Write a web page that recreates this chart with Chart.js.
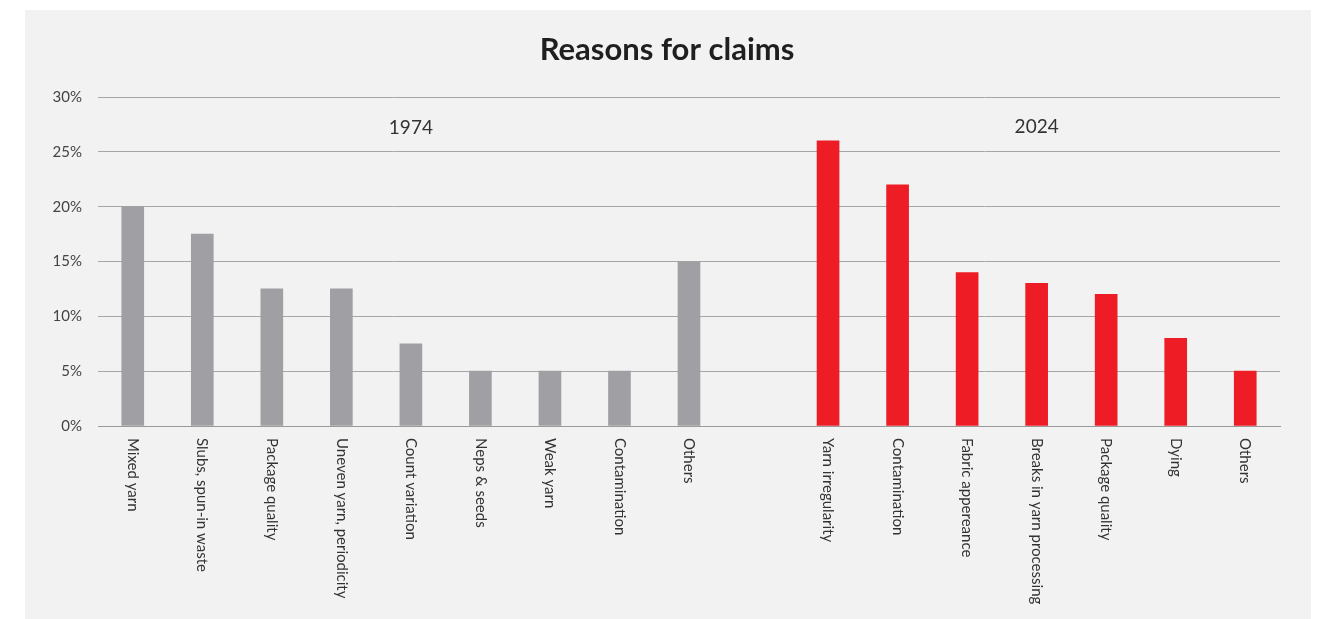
<!DOCTYPE html>
<html>
<head>
<meta charset="utf-8">
<script src="https://cdn.jsdelivr.net/npm/chart.js@4"></script>
<style>
  html, body { margin: 0; padding: 0; background: #fff; }
  #panel { position: absolute; left: 25px; top: 10px; width: 1286px; height: 609px; background: #f2f2f2; }
  #wrap { position: absolute; left: 0; top: 0; width: 1326px; height: 619px; }
</style>
</head>
<body>
<div id="panel"></div>
<div id="wrap"><canvas id="chart"></canvas></div>
<script>
const labels1974 = ['Mixed yarn', 'Slubs, spun-in waste', 'Package quality', 'Uneven yarn, periodicity', 'Count variation', 'Neps & seeds', 'Weak yarn', 'Contamination', 'Others'];
const labels2024 = ['Yarn irregularity', 'Contamination', 'Fabric appereance', 'Breaks in yarn processing', 'Package quality', 'Dying', 'Others'];
const values1974 = [20, 17.5, 12.5, 12.5, 7.5, 5, 5, 5, 15];
const values2024 = [26, 22, 14, 13, 12, 8, 5];
const yTicks = [0, 5, 10, 15, 20, 25, 30];

const labels = [...labels1974, '', ...labels2024];
const gap = [null];
const data1974 = [...values1974, ...gap, ...labels2024.map(() => null)];
const data2024 = [...labels1974.map(() => null), ...gap, ...values2024];

const FONT = 'Lato, "Noto Sans", sans-serif';

const decorations = {
  id: 'decorations',
  afterDraw(chart) {
    const { ctx, chartArea, scales } = chart;
    const x = scales.x, y = scales.y;
    ctx.save();
    // title
    ctx.fillStyle = '#1f1f1f';
    ctx.font = `bold 31px ${FONT}`;
    ctx.textAlign = 'center';
    ctx.textBaseline = 'middle';
    ctx.fillText('Reasons for claims', 667, 50);
    // year labels
    ctx.fillStyle = '#333';
    ctx.font = `400 19px ${FONT}`;
    const mid1974 = (labels1974.length - 1) / 2;
    const mid2024 = labels1974.length + 1 + (labels2024.length - 1) / 2;
    ctx.fillText('1974', x.getPixelForValue(mid1974), y.getPixelForValue(27.2));
    ctx.fillText('2024', x.getPixelForValue(mid2024), y.getPixelForValue(27.3));
    // rotated category labels, reading top to bottom
    ctx.font = `400 15px ${FONT}`;
    ctx.textAlign = 'left';
    labels.forEach((lab, i) => {
      if (!lab) return;
      ctx.save();
      ctx.translate(x.getPixelForValue(i), chartArea.bottom + 12);
      ctx.rotate(Math.PI / 2);
      ctx.fillText(lab, 0, 0);
      ctx.restore();
    });
    ctx.restore();
  }
};

new Chart(document.getElementById('chart'), {
  type: 'bar',
  data: {
    labels,
    datasets: [
      { label: '1974', data: data1974, backgroundColor: '#a0a0a4', grouped: false, barThickness: 22 },
      { label: '2024', data: data2024, backgroundColor: '#ee1c25', grouped: false, barThickness: 22 }
    ]
  },
  options: {
    responsive: true,
    maintainAspectRatio: false,
    animation: false,
    layout: { padding: { top: 97, bottom: 185, right: 46, left: 0 } },
    plugins: { legend: { display: false }, tooltip: { enabled: false } },
    scales: {
      x: {
        grid: { display: false },
        border: { display: true, color: '#9a9a9a', width: 1 },
        ticks: { display: false }
      },
      y: {
        min: 0,
        max: 30,
        afterFit(scale) { scale.width = 98; },
        afterBuildTicks(scale) { scale.ticks = yTicks.map(v => ({ value: v })); },
        grid: { color: '#a6a6a6', lineWidth: 1, drawTicks: false },
        border: { display: false },
        ticks: {
          padding: 16,
          color: '#444',
          font: { family: FONT, size: 15 },
          callback: v => v + '%'
        }
      }
    }
  },
  plugins: [decorations]
});
</script>
</body>
</html>
